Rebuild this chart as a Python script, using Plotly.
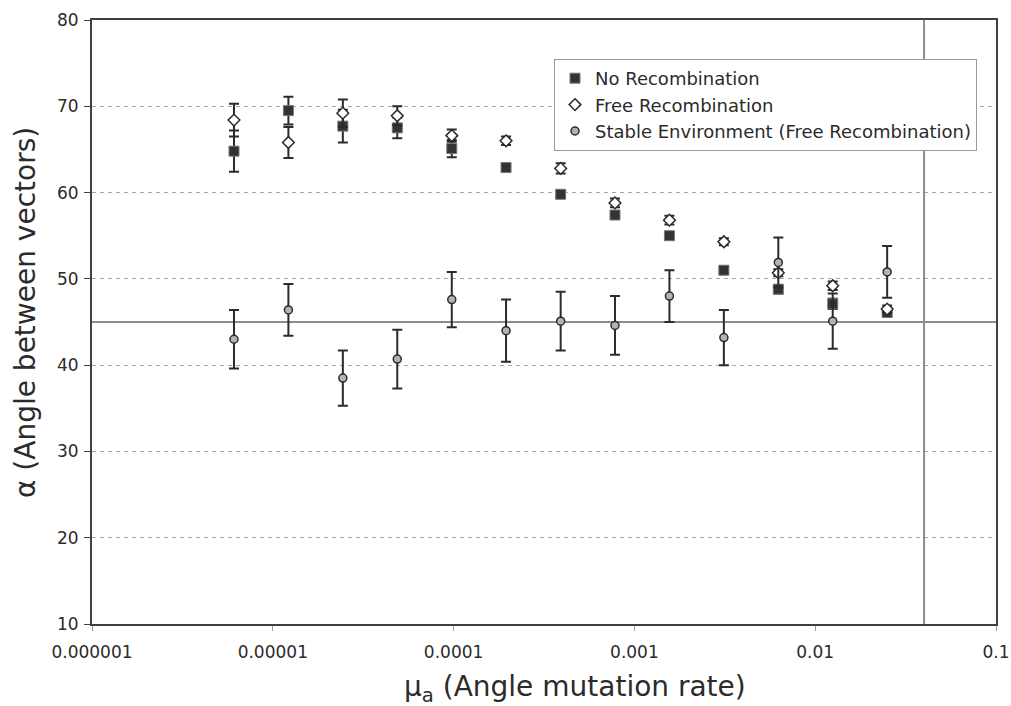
import plotly.graph_objects as go

# ---- data ----
mutation_rate = [6.1e-6, 1.22e-5, 2.44e-5, 4.88e-5, 9.77e-5, 1.95e-4, 3.91e-4,
                 7.81e-4, 1.5625e-3, 3.125e-3, 6.25e-3, 0.0125, 0.025]

no_recomb = [64.8, 69.5, 67.7, 67.5, 65.1, 62.9, 59.8, 57.4, 55.0, 51.0, 48.8, 47.1, 46.1]
no_recomb_err = [2.4, 1.6, 1.9, 1.2, 1.0, 0.4, 0.4, 0.4, 0.4, 0.4, 0.5, 0.6, 0.3]

free_recomb = [68.4, 65.8, 69.2, 68.9, 66.6, 66.0, 62.8, 58.8, 56.8, 54.3, 50.7, 49.2, 46.5]
free_recomb_err = [1.9, 1.8, 1.6, 1.1, 0.7, 0.5, 0.6, 0.5, 0.5, 0.4, 0.4, 0.5, 0.4]

stable_env = [43.0, 46.4, 38.5, 40.7, 47.6, 44.0, 45.1, 44.6, 48.0, 43.2, 51.9, 45.1, 50.8]
stable_env_err = [3.4, 3.0, 3.2, 3.4, 3.2, 3.6, 3.4, 3.4, 3.0, 3.2, 2.9, 3.2, 3.0]

ref_angle = 45
ref_rate = 0.04
x_range = [1e-6, 0.1]
y_range = [10, 80]

x_tickvals = [1e-6, 1e-5, 1e-4, 1e-3, 1e-2, 1e-1]
x_ticktext = ["0.000001", "0.00001", "0.0001", "0.001", "0.01", "0.1"]
y_tickvals = [10, 20, 30, 40, 50, 60, 70, 80]

FONT = "DejaVu Sans"
DARK = "#2b2b2b"

fig = go.Figure()

# reference lines
fig.add_trace(go.Scatter(x=x_range, y=[ref_angle, ref_angle], mode="lines",
                         line=dict(color="#8c8c8c", width=2), showlegend=False,
                         hoverinfo="skip"))
fig.add_trace(go.Scatter(x=[ref_rate, ref_rate], y=y_range, mode="lines",
                         line=dict(color="#8c8c8c", width=2), showlegend=False,
                         hoverinfo="skip"))

err_style = dict(type="data", color=DARK, thickness=2, width=5)

fig.add_trace(go.Scatter(
    x=mutation_rate, y=no_recomb, mode="markers", name="No Recombination",
    marker=dict(symbol="square", size=10, color="#333333",
                line=dict(color="#777777", width=1)),
    error_y=dict(array=no_recomb_err, **err_style)))

fig.add_trace(go.Scatter(
    x=mutation_rate, y=free_recomb, mode="markers", name="Free Recombination",
    marker=dict(symbol="diamond", size=9, color="white",
                line=dict(color=DARK, width=1.5)),
    error_y=dict(array=free_recomb_err, **err_style)))

fig.add_trace(go.Scatter(
    x=mutation_rate, y=stable_env, mode="markers",
    name="Stable Environment (Free Recombination)",
    marker=dict(symbol="circle", size=8, color="#b3b3b3",
                line=dict(color=DARK, width=1.5)),
    error_y=dict(array=stable_env_err, **err_style)))

L, R, T, B = 92, 15, 20, 82
PW = 1011 - L - R
PH = 706 - T - B

fig.update_layout(
    width=1011, height=706,
    margin=dict(l=L, r=R, t=T, b=B, pad=0, autoexpand=False),
    paper_bgcolor="white", plot_bgcolor="white",
    font=dict(family=FONT, size=17, color=DARK),
    showlegend=True,
    legend=dict(x=(554 - L) / PW, xanchor="left", y=(706 - B - 59) / PH, yanchor="top",
                bgcolor="white", bordercolor="#9a9a9a", borderwidth=1,
                font=dict(family=FONT, size=18, color=DARK),
                itemwidth=30, tracegroupgap=0),
    xaxis=dict(type="log", range=[-6, -1], tickvals=x_tickvals, ticktext=x_ticktext,
               automargin=False,
               showgrid=False, zeroline=False, showline=True, mirror=True,
               linecolor="#404040", linewidth=2, ticks="outside", ticklen=5,
               tickcolor="#9a9a9a", ticklabelstandoff=7,
               tickfont=dict(family=FONT, size=17, color=DARK)),
    yaxis=dict(range=y_range, tickvals=y_tickvals, showgrid=True, automargin=False,
               gridcolor="#a6a6a6", griddash="4px,4px", gridwidth=1,
               zeroline=False, showline=True, mirror=True,
               linecolor="#404040", linewidth=2, ticks="outside", ticklen=6,
               tickcolor="#404040", ticklabelstandoff=2,
               tickfont=dict(family=FONT, size=17, color=DARK)),
    annotations=[
        dict(text="μ<sub>a</sub> (Angle mutation rate)", xref="paper", yref="paper",
             x=(575 - L) / PW, y=-(688 - (706 - B)) / PH, xanchor="center", yanchor="middle",
             showarrow=False, font=dict(family=FONT, size=28, color=DARK)),
        dict(text="α (Angle between vectors)", xref="paper", yref="paper",
             x=-(L - 25) / PW, y=((706 - B) - 313) / PH, xanchor="center", yanchor="middle",
             textangle=-90, showarrow=False, font=dict(family=FONT, size=28, color=DARK)),
    ],
)

fig.write_html("out.html")
